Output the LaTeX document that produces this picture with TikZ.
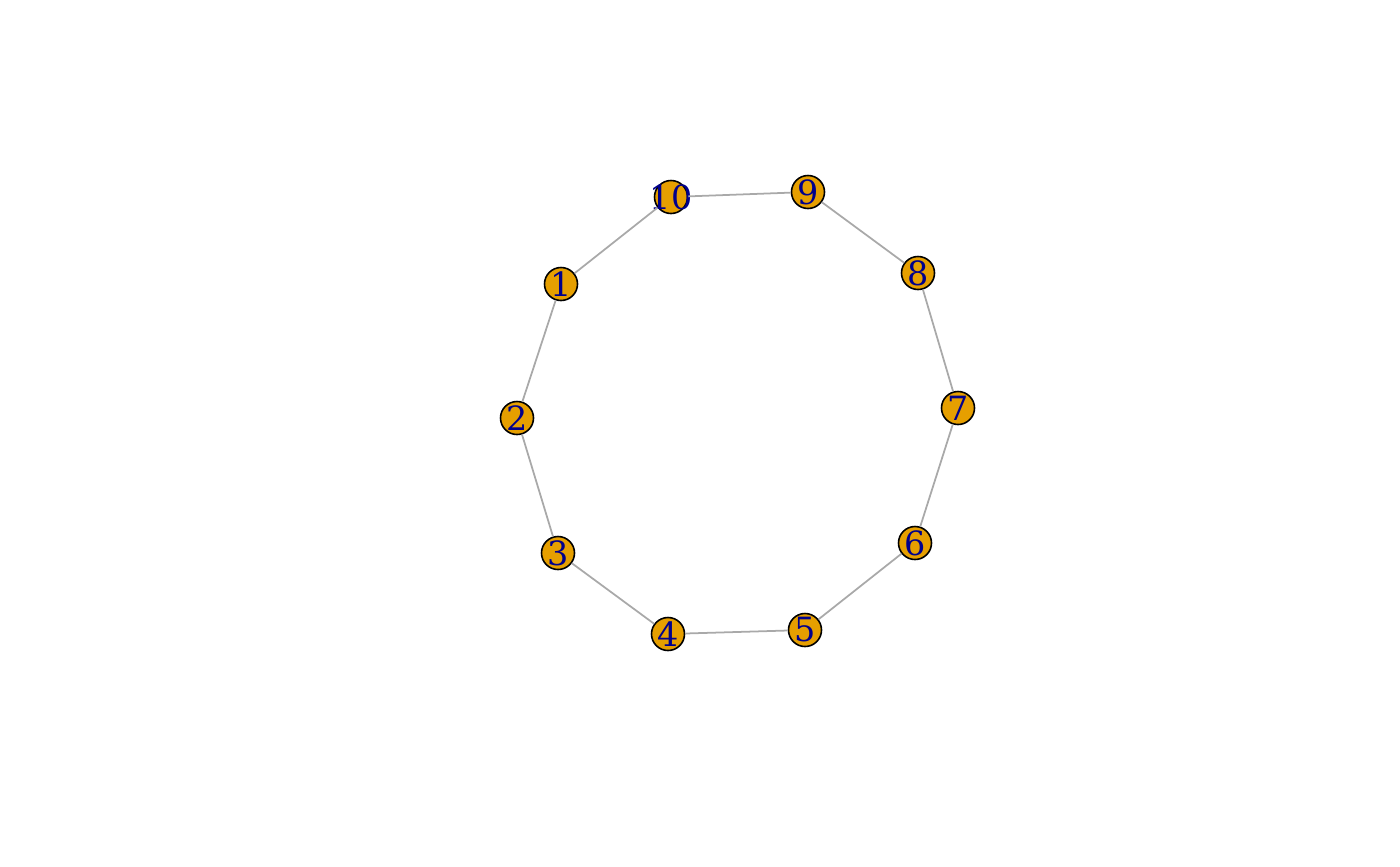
\documentclass[tikz,border=0pt]{standalone}
\usepackage{fontspec}
\setmainfont{DejaVu Serif}
\usepackage{xcolor}
\usepackage{tikz}
\definecolor{vfill}{HTML}{E69F00}
\definecolor{vlabel}{HTML}{00008B}
\definecolor{edgegray}{HTML}{A9A9A9}

\begin{document}
\begin{tikzpicture}[x=0.01cm, y=-0.01cm,
    vertex/.style={circle, draw=black, line width=0.45pt, fill=vfill, minimum size=0.33cm, inner sep=0pt, text=vlabel, font=\fontsize{9.5}{10}\selectfont},
    edge/.style={draw=edgegray, line width=0.5pt},
]
\useasboundingbox (0,0) rectangle (1400,866);
\node[vertex] (v1) at (561,284) {1};
\node[vertex] (v2) at (517,418) {2};
\node[vertex] (v3) at (558,553) {3};
\node[vertex] (v4) at (668,634) {4};
\node[vertex] (v5) at (805,630) {5};
\node[vertex] (v6) at (915,543) {6};
\node[vertex] (v7) at (958,408) {7};
\node[vertex] (v8) at (918,273) {8};
\node[vertex] (v9) at (808,192) {9};
\node[vertex] (v10) at (671,197) {\makebox[0pt]{10}};
\draw[edge] (v1) -- (v2); \draw[edge] (v2) -- (v3); \draw[edge] (v3) -- (v4);
\draw[edge] (v4) -- (v5); \draw[edge] (v5) -- (v6); \draw[edge] (v6) -- (v7);
\draw[edge] (v7) -- (v8); \draw[edge] (v8) -- (v9); \draw[edge] (v9) -- (v10);
\draw[edge] (v10) -- (v1);
\end{tikzpicture}
\end{document}
